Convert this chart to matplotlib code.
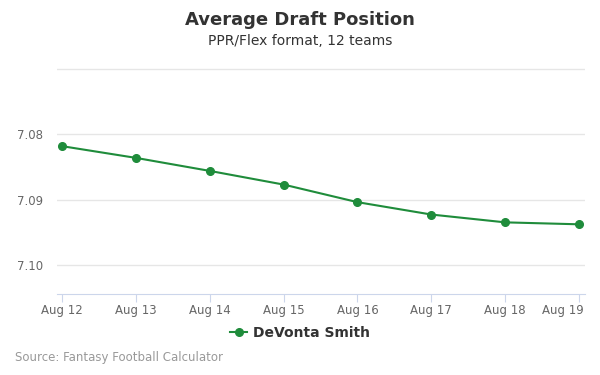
import numpy as np
import matplotlib
matplotlib.use("Agg")
import matplotlib.pyplot as plt
import matplotlib.transforms as mtransforms
from matplotlib.lines import Line2D

# values
dates = ['Aug 12', 'Aug 13', 'Aug 14', 'Aug 15', 'Aug 16', 'Aug 17', 'Aug 18', 'Aug 19']
adp = [7.0818, 7.0836, 7.0856, 7.0877, 7.0904, 7.0923, 7.0935, 7.0938]
ytick_vals = [7.07, 7.08, 7.09, 7.10]
ytick_labels = ['', '7.08', '7.09', '7.10']
player = 'DeVonta Smith'

green = '#1f8c3b'

fig = plt.figure(figsize=(6, 3.75), dpi=100)
ax = fig.add_axes([57 / 600, 1 - 294 / 375, 528 / 600, 226 / 375])

x = np.arange(len(dates))
ax.plot(x, adp, color=green, lw=1.5, marker='o', ms=5.5, zorder=3)

ax.set_xlim(-0.068, len(dates) - 1 + 0.08)
ax.set_ylim(7.1045, 7.0698)
ax.set_xticks(x)
ax.set_xticklabels(dates)
ax.set_yticks(ytick_vals)
ax.set_yticklabels(ytick_labels)

ax.grid(axis='y', color='#e6e6e6', lw=1)
ax.set_axisbelow(True)
for s in ['top', 'right', 'left']:
    ax.spines[s].set_visible(False)
ax.spines['bottom'].set_color('#ccd6eb')
ax.tick_params(axis='x', colors='#ccd6eb', length=6, labelcolor='#666666', labelsize=8.5, pad=1.5)
ax.tick_params(axis='y', length=0, labelcolor='#666666', labelsize=8.5, pad=10)

# last label pulled inside the chart like the original
last = ax.get_xticklabels()[-1]
last.set_horizontalalignment('right')
last.set_transform(last.get_transform() + mtransforms.ScaledTranslation(5 / 100, 0, fig.dpi_scale_trans))

fig.text(0.5, 1 - 20 / 375, 'Average Draft Position', ha='center', va='center',
         fontsize=13, fontweight='bold', color='#333333')
fig.text(0.5, 1 - 41 / 375, 'PPR/Flex format, 12 teams', ha='center', va='center',
         fontsize=10, color='#333333')

handle = Line2D([], [], color=green, lw=1.5, marker='o', ms=5.5)
fig.legend([handle], [player], loc='center', bbox_to_anchor=(0.5, 1 - 333 / 375),
           frameon=False, prop={'weight': 'bold', 'size': 10}, labelcolor='#333333',
           handlelength=1.2, handletextpad=0.4)

fig.text(15 / 600, 1 - 357 / 375, 'Source: Fantasy Football Calculator', ha='left', va='center',
         fontsize=8.5, color='#999999')

fig.savefig('out.png', dpi=100)
